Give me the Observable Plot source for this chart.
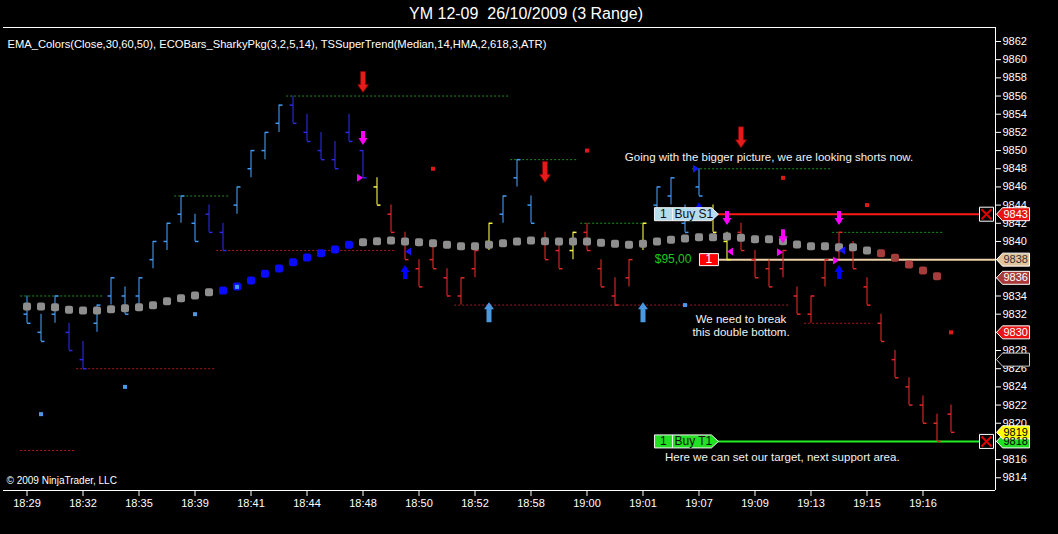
<!DOCTYPE html>
<html><head><meta charset="utf-8">
<script src="https://cdn.jsdelivr.net/npm/d3@7"></script>
<script src="https://cdn.jsdelivr.net/npm/@observablehq/plot@0.6"></script>
<style>
html,body{margin:0;padding:0;background:#000;}
body{width:1058px;height:534px;overflow:hidden;position:relative;font-family:"Liberation Sans",Arial,sans-serif;}
#title{position:absolute;left:0;top:0;width:1052px;height:26px;text-align:center;color:#fff;font-size:16px;line-height:28px;white-space:pre;}
#chart{position:absolute;left:0;top:26px;}
</style></head><body>
<div id="title">YM 12-09  26/10/2009 (3 Range)</div>
<div id="chart"></div>
<script>
// ---- data ----
const timeLabels = ["18:29","18:32","18:35","18:39","18:41","18:44","18:48","18:50","18:52","18:58","19:00","19:01","19:07","19:09","19:13","19:15","19:16"];
const priceTicks = [9814,9816,9818,9820,9822,9824,9826,9828,9830,9832,9834,9836,9838,9840,9842,9844,9846,9848,9850,9852,9854,9856,9858,9860,9862];
const highs  = [9834,9832,9834,9831,9829,9833,9836,9835,9836,9840,9842,9845,9843,9844,9842,9846,9850,9852,9855,9856,9854,9852,9851,9854,9850,9847,9844,9841,9838,9840,9837,9836,9839,9842,9845,9849,9845,9841,9840,9841,9842,9838,9836,9838,9842,9846,9847,9844,9848,9844,9841,9842,9839,9838,9839,9835,9834,9838,9841,9840,9836,9832,9828,9825,9823,9821,9822];
const lows   = [9831,9829,9831,9828,9826,9830,9833,9832,9833,9837,9839,9842,9840,9841,9839,9843,9847,9849,9852,9853,9851,9849,9848,9851,9847,9844,9841,9838,9835,9837,9834,9833,9836,9839,9842,9846,9842,9838,9837,9838,9839,9835,9833,9835,9839,9843,9844,9841,9845,9841,9838,9839,9836,9835,9836,9832,9831,9835,9838,9837,9833,9829,9825,9822,9820,9818,9819];
const opens  = [9832,9830,9832,9830,9827,9831,9834,9834,9834,9838,9840,9843,9842,9843,9841,9844,9848,9850,9853,9855,9852,9850,9849,9852,9850,9846,9843,9840,9837,9838,9836,9834,9837,9840,9843,9847,9844,9840,9839,9839,9841,9837,9834,9836,9840,9844,9845,9842,9846,9843,9840,9841,9838,9837,9837,9834,9832,9836,9839,9839,9835,9831,9827,9824,9822,9820,9821];
const closes = [9831,9829,9834,9828,9826,9833,9836,9832,9836,9840,9842,9845,9840,9841,9839,9846,9850,9852,9855,9853,9851,9849,9848,9851,9847,9844,9841,9838,9835,9837,9834,9836,9839,9842,9845,9849,9842,9838,9837,9841,9839,9835,9833,9838,9842,9846,9847,9841,9845,9841,9838,9839,9836,9835,9839,9832,9834,9838,9841,9837,9833,9829,9825,9822,9820,9818,9819];
const barState = "LLLDDLLLLLLLLDDLLLLDDDDDDYRRRRRRRYLLLRRYRRRRYLLLLYYRRRRRRRRRRRRRRRR".split("");
const emaValues = [9832.85,9832.85,9832.77,9832.48,9832.41,9832.41,9832.55,9832.66,9832.77,9832.99,9833.43,9833.76,9834.06,9834.42,9834.61,9835.05,9835.71,9836.44,9837.03,9837.72,9838.24,9838.71,9839.12,9839.63,9839.92,9840.03,9840.11,9840.0,9839.92,9839.81,9839.63,9839.48,9839.48,9839.63,9839.81,9840.0,9840.11,9840.03,9840.0,9840.0,9840.0,9839.85,9839.74,9839.63,9839.74,9840.0,9840.19,9840.33,9840.47,9840.47,9840.55,9840.4,9840.25,9840.25,9840.03,9839.67,9839.48,9839.48,9839.37,9839.37,9839.01,9838.71,9838.2,9837.47,9836.81,9836.18];
const emaState = "GGGGGGGGGGGGGGBBBBBBBBBBGGGGGGGGGGGGGGGGGGGGGGGGGGGGGGGGGGGGGMMMMM".split("");
const swingLowBars = [1,7,12,15,47];
const swingLowPrices = [9821,9824,9832,9835,9833];
const swingHighBars = [29,40,54,60,66];
const swingHighPrices = [9848,9850,9847,9844,9830];
const resistance = [[0,5,9834],[11,14,9845],[19,34,9856],[35,39,9849],[40,44,9842],[48,57,9848],[58,65,9841]];
const support = [[0,3,9817],[4,13,9826],[14,26,9839],[31,54,9833],[56,60,9831]];
const bigDown = [[24,9856.4],[37,9846.5],[51,9850.3]];
const magDown = [[24,9850.6],[50,9841.8],[54,9839.8],[58,9841.8]];
const blueUp = [[27,9837.4],[48,9844.3],[58,9837.4]];
const lbUp = [[33,9833.3],[44,9833.3]];
const magRight = [[24,9847.0],[54,9838.8],[58,9837.9]];
const magLeft = [[50,9838.9]];
const blueLeft = [[27,9838.9],[58,9839.0]];
const blueRight = [[48,9848.0]];
const priceTags = [
  {p:9818,label:"9818",bg:"#22dd22",ink:"#000",edge:"#fff"},
  {p:9819,label:"9819",bg:"#ffff00",ink:"#000",edge:"#fff"},
  {p:9843,label:"9843",bg:"#e81414",ink:"#fff",edge:"#fff"},
  {p:9838,label:"9838",bg:"#e2c49c",ink:"#333",edge:"#fff"},
  {p:9836,label:"9836",bg:"#a83a3a",ink:"#fff",edge:"#fff"},
  {p:9830,label:"9830",bg:"#e81414",ink:"#fff",edge:"#fff"},
  {p:9827,label:"",bg:"#000",ink:"#fff",edge:"#ccc"}
];
const stopPrice = 9843, entryPrice = 9838, targetPrice = 9818;
const orderBar = 49.39, orderEnd = 68.04;
const notes = [
  {i:53, p:9849.3, text:"Going with the bigger picture, we are looking shorts now."},
  {i:51, p:9830.8, text:"We need to break\nthis double bottom."},
  {i:53.95, p:9816.3, text:"Here we can set our target, next support area."}
];
const subtitle = "EMA_Colors(Close,30,60,50), ECOBars_SharkyPkg(3,2,5,14), TSSuperTrend(Median,14,HMA,2,618,3,ATR)";

// ---- build ----
const xDomain = [-1.679, 69.179];
const yDomain = [9812.6, 9863.54];
const barColor = {L:"#4499ee", D:"#2a2ae0", R:"#e02828", Y:"#f6f648"};
const emaColor = {G:"#8e8e8e", B:"#0a0aff", M:"#a63c3c"};
const bars = highs.map((h,i)=>({i, h, l:lows[i], o:opens[i], c:closes[i], col:barColor[barState[i]]}));
const ema = emaValues.map((v,i)=>({i, v, col:emaColor[emaState[i]]}));
const pts = a => a.map(([i,p])=>({i,p}));
const sym = f => ({draw: f});
const poly = (c, pts) => { c.moveTo(pts[0][0],pts[0][1]); for (let k=1;k<pts.length;k++) c.lineTo(pts[k][0],pts[k][1]); c.closePath(); };
const tickL = sym(c=>{c.moveTo(-3.5,0); c.lineTo(0,0);});
const tickR = sym(c=>{c.moveTo(0,0); c.lineTo(3.5,0);});
const rsq = sym(c=>{const s=4,r=2; c.moveTo(-s+r,-s); c.lineTo(s-r,-s); c.arcTo(s,-s,s,-s+r,r); c.lineTo(s,s-r); c.arcTo(s,s,s-r,s,r); c.lineTo(-s+r,s); c.arcTo(-s,s,-s,s-r,r); c.lineTo(-s,-s+r); c.arcTo(-s,-s,-s+r,-s,r); c.closePath();});
const sq = sym(c=>poly(c,[[-2,-2],[2,-2],[2,2],[-2,2]]));
const arrowBigDown = sym(c=>poly(c,[[-2.5,-21],[2.5,-21],[2.5,-8],[5.5,-8],[0,0],[-5.5,-8],[-2.5,-8]]));
const arrowDown = sym(c=>poly(c,[[-2,-14],[2,-14],[2,-7],[4.5,-7],[0,0],[-4.5,-7],[-2,-7]]));
const arrowUp = sym(c=>poly(c,[[-2,14],[2,14],[2,7],[4.5,7],[0,0],[-4.5,7],[-2,7]]));
const arrowBigUp = sym(c=>poly(c,[[-2.5,20],[2.5,20],[2.5,7],[5,7],[0,0],[-5,7],[-2.5,7]]));
const triR = sym(c=>poly(c,[[-6,-4],[0,0],[-6,4]]));
const triL = sym(c=>poly(c,[[6,-4],[0,0],[6,4]]));
const tagShape = sym(c=>poly(c,[[0,0],[6,-6.5],[33,-6.5],[33,6.5],[6,6.5]]));
const orderShape = sym(c=>{poly(c,[[0,0],[-7,-6.5],[-64,-6.5],[-64,6.5],[-7,6.5]]); c.moveTo(-46,-6.5); c.lineTo(-46,6.5);});
const qtyShape = sym(c=>poly(c,[[-19,-6],[0,-6],[0,6],[-19,6]]));
const xBox = sym(c=>poly(c,[[-7,-7],[7,-7],[7,7],[-7,7]]));
const xCross = sym(c=>{c.moveTo(-5,-5); c.lineTo(5,5); c.moveTo(5,-5); c.lineTo(-5,5);});

const fontFamily = "'Liberation Sans', Arial, Helvetica, sans-serif";
const dashed = (arr, color) => Plot.ruleY(arr, {y: d=>d[2], x1: d=>d[0]-0.45, x2: d=>d[1]+0.42, stroke: color, strokeWidth: 1, strokeDasharray: "2,2"});
const sig = (arr, symbol, fill, extra={}) => Plot.dot(pts(arr), {x:"i", y:"p", symbol, fill, stroke:"none", r:3, ...extra});

const chart = Plot.plot({
  width: 1058, height: 508,
  marginTop: 1, marginRight: 63, marginBottom: 44, marginLeft: 3,
  x: {domain: xDomain, axis: null},
  y: {domain: yDomain, axis: null},
  color: {type: "identity"},
  style: {background: "#000", color: "#fff", fontFamily, fontSize: "11px", overflow: "visible"},
  marks: [
    dashed(resistance, "#1f8f1f"),
    dashed(support, "#a81c1c"),
    // order lines
    Plot.ruleY([stopPrice], {x1: orderBar, x2: orderEnd, stroke: "#ff1a1a", strokeWidth: 2}),
    Plot.ruleY([entryPrice], {x1: orderBar, x2: xDomain[1], stroke: "#f0d2a8", strokeWidth: 2}),
    Plot.ruleY([targetPrice], {x1: orderBar, x2: orderEnd, stroke: "#22ee22", strokeWidth: 2}),
    // OHLC range bars
    Plot.ruleX(bars, {x:"i", y1:"l", y2:"h", stroke:"col", strokeWidth:1.1}),
    Plot.dot(bars, {x:"i", y:"o", symbol:tickL, stroke:"col", fill:"none", r:2}),
    Plot.dot(bars, {x:"i", y:"c", symbol:tickR, stroke:"col", fill:"none", r:2}),
    // EMA dots
    Plot.dot(ema, {x:"i", y:"v", symbol:rsq, fill:"col", stroke:"none", r:4}),
    // swing markers
    Plot.dot(swingLowBars.map((i,k)=>({i,p:swingLowPrices[k]})), {x:"i", y:"p", symbol:sq, fill:"#4a9ae6", stroke:"none", r:2}),
    Plot.dot(swingHighBars.map((i,k)=>({i,p:swingHighPrices[k]})), {x:"i", y:"p", symbol:sq, fill:"#e01818", stroke:"none", r:2}),
    // signals
    sig(bigDown, arrowBigDown, "#e41b1b", {stroke:"#8a0000", strokeWidth:0.6}),
    sig(magDown, arrowDown, "#ff00ff"),
    sig(blueUp, arrowUp, "#0000ff"),
    sig(lbUp, arrowBigUp, "#4a98e0"),
    sig(magRight, triR, "#ff00ff"),
    sig(magLeft, triL, "#ff00ff"),
    sig(blueLeft, triL, "#1414ff"),
    sig(blueRight, triR, "#1414ff"),
    // order widgets
    Plot.dot([{i:orderBar,p:stopPrice,bg:"#b4dcec"},{i:orderBar,p:targetPrice,bg:"#22e022"}], {x:"i", y:"p", symbol:orderShape, fill:"bg", stroke:"#f4f4f4", strokeWidth:1, r:3}),
    Plot.text([stopPrice, targetPrice], {x:orderBar, y:d=>d, text:()=> "1", dx:-55, fill:"#111", fontSize:12}),
    Plot.text([{p:stopPrice,t:"Buy S1"},{p:targetPrice,t:"Buy T1"}], {x:orderBar, y:"p", text:"t", dx:-44, textAnchor:"start", fill:"#111", fontSize:12}),
    Plot.dot([entryPrice], {x:orderBar, y:d=>d, symbol:qtyShape, fill:"#ff0000", stroke:"#fff", strokeWidth:1, r:3}),
    Plot.text([entryPrice], {x:orderBar, y:d=>d, text:()=>"1", dx:-9.5, fill:"#fff", fontSize:12}),
    Plot.text([entryPrice], {x:orderBar, y:d=>d, text:()=>"$95,00", dx:-27, textAnchor:"end", fill:"#1ec81e", fontSize:12}),
    // notes
    Plot.text(notes, {x:"i", y:"p", text:"text", fill:"#f2f2f2", fontSize:11.5, lineHeight:1.12}),
    Plot.text([subtitle], {frameAnchor:"top-left", text:d=>d, dx:4, dy:13, textAnchor:"start", fill:"#fff", fontSize:11.2}),
    Plot.text(["© 2009 NinjaTrader, LLC"], {frameAnchor:"bottom-left", text:d=>d, dx:3, dy:-7, textAnchor:"start", fill:"#fff", fontSize:10}),
    // axes & frame
    Plot.axisY({anchor:"right", ticks: priceTicks, tickSize:5, tickPadding:2, tickFormat:d=>String(d), label:null, fontSize:11}),
    Plot.axisX({anchor:"bottom", ticks: timeLabels.map((_,k)=>k*4), tickSize:6, tickPadding:3, tickFormat:d=>timeLabels[d/4], label:null, fontSize:11}),
    Plot.ruleY([yDomain[1], yDomain[0]], {stroke:"#fff", strokeWidth:1}),
    Plot.ruleX([xDomain[1]], {stroke:"#fff", strokeWidth:1}),
    // price tags
    Plot.dot(priceTags, {y:"p", frameAnchor:"right", dx:1, symbol:tagShape, fill:"bg", stroke:"edge", strokeWidth:1, r:3}),
    Plot.text(priceTags, {y:"p", frameAnchor:"right", dx:8, text:"label", textAnchor:"start", fill:"ink", fontSize:11}),
    // close boxes
    Plot.dot([stopPrice, targetPrice], {y:d=>d, frameAnchor:"right", dx:-9, symbol:xBox, fill:"#000", stroke:"#fff", strokeWidth:1, r:3}),
    Plot.dot([stopPrice, targetPrice], {y:d=>d, frameAnchor:"right", dx:-9, symbol:xCross, fill:"none", stroke:"#e00000", strokeWidth:2, r:3})
  ]
});
document.getElementById("chart").appendChild(chart);
</script></body></html>
